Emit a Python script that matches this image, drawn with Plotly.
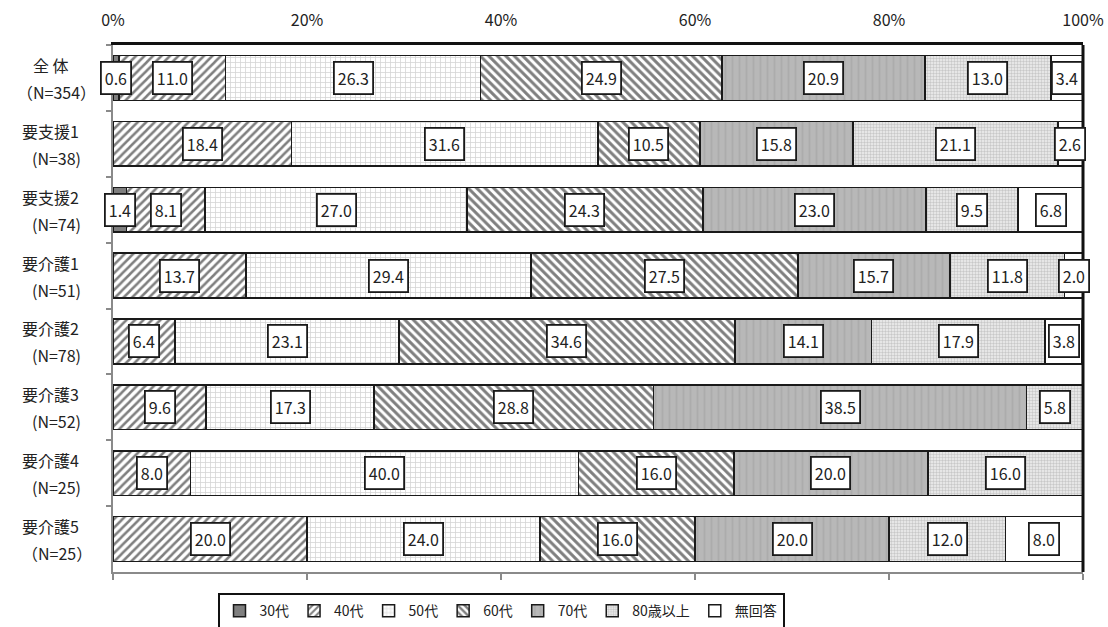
import plotly.graph_objects as go

# Care level groups (top to bottom) and their respondent counts
categories = ["全 体", "要支援1", "要支援2", "要介護1", "要介護2", "要介護3", "要介護4", "要介護5"]
counts = ["（N=354）", "(N=38)", "(N=74)", "(N=51)", "(N=78)", "(N=52)", "(N=25)", "（N=25）"]

# Age-group shares (%) for each care level
age_groups = ["30代", "40代", "50代", "60代", "70代", "80歳以上", "無回答"]
age_30s = [0.6, 0, 1.4, 0, 0, 0, 0, 0]
age_40s = [11.0, 18.4, 8.1, 13.7, 6.4, 9.6, 8.0, 20.0]
age_50s = [26.3, 31.6, 27.0, 29.4, 23.1, 17.3, 40.0, 24.0]
age_60s = [24.9, 10.5, 24.3, 27.5, 34.6, 28.8, 16.0, 16.0]
age_70s = [20.9, 15.8, 23.0, 15.7, 14.1, 38.5, 20.0, 20.0]
age_80plus = [13.0, 21.1, 9.5, 11.8, 17.9, 5.8, 16.0, 12.0]
no_answer = [3.4, 2.6, 6.8, 2.0, 3.8, 0, 0, 8.0]

series = [age_30s, age_40s, age_50s, age_60s, age_70s, age_80plus, no_answer]

tick_vals = [0, 20, 40, 60, 80, 100]
tick_text = ["0%", "20%", "40%", "60%", "80%", "100%"]

FONT = "Noto Sans CJK JP"

styles = [
    dict(color="#7f7f7f", pattern=dict(shape="")),
    dict(color="white", pattern=dict(shape="/", fgcolor="#000", bgcolor="white", size=6, solidity=0.42)),
    dict(color="white", pattern=dict(shape="+", fgcolor="#a8a8a8", bgcolor="white", size=5, solidity=0.28)),
    dict(color="white", pattern=dict(shape="\\", fgcolor="#000", bgcolor="white", size=6, solidity=0.5)),
    dict(color="#b4b4b4", pattern=dict(shape="|", fgcolor="#a0a0a0", bgcolor="#b8b8b8", size=7, solidity=0.25)),
    dict(color="white", pattern=dict(shape=".", fgcolor="#a0a0a0", bgcolor="#f0f0f0", size=3, solidity=0.5)),
    dict(color="white", pattern=dict(shape="")),
]

fig = go.Figure()
for name, vals, st in zip(age_groups, series, styles):
    fig.add_trace(go.Bar(
        y=categories, x=vals, name=name, orientation="h",
        marker=dict(color=st["color"], pattern=st["pattern"],
                    line=dict(color="#1a1a1a", width=1.5)),
        hoverinfo="skip",
    ))

# Hidden helper trace so the bottom tick axis is rendered
fig.add_trace(go.Scatter(
    x=[tick_vals[0], tick_vals[-1]], y=[categories[0], categories[0]],
    xaxis="x2", mode="none", showlegend=False, hoverinfo="skip",
))

# Boxed value labels centred on each segment
annotations = []
for i, cat in enumerate(categories):
    left = 0.0
    for vals in series:
        v = vals[i]
        if v > 0:
            annotations.append(dict(
                x=left + v / 2, y=cat, xref="x", yref="y",
                text=f"{v:.1f}", showarrow=False,
                font=dict(family=FONT, size=16, color="#222"),
                bgcolor="white", bordercolor="#1a1a1a", borderwidth=1.8, borderpad=3,
            ))
        left += v

# Two-line category labels on the left
for cat, n in zip(categories, counts):
    annotations.append(dict(
        x=-0.064, y=cat, xref="paper", yref="y", xanchor="center", yshift=13,
        text=cat, showarrow=False,
        font=dict(family=FONT, size=16, color="#222"),
    ))
    annotations.append(dict(
        x=-0.058, y=cat, xref="paper", yref="y", xanchor="center", yshift=-14,
        text=n, showarrow=False,
        font=dict(family=FONT, size=16, color="#222"),
    ))

fig.update_layout(
    barmode="stack",
    bargap=0.32,
    width=1108, height=627,
    margin=dict(l=113, r=25, t=45, b=55, autoexpand=False),
    paper_bgcolor="white", plot_bgcolor="white",
    font=dict(family=FONT, size=16, color="#222"),
    annotations=annotations,
    xaxis=dict(
        side="top", range=[0, 100], tickmode="array",
        tickvals=tick_vals, ticktext=tick_text,
        showgrid=False, zeroline=False,
        showline=True, linecolor="#111", linewidth=3, ticks="",
        ticklabelstandoff=10,
        tickfont=dict(family=FONT, size=16, color="#222"),
    ),
    xaxis2=dict(
        overlaying="x", side="bottom", anchor="y", range=[0, 100],
        tickmode="array", tickvals=tick_vals, showticklabels=False,
        showgrid=False, zeroline=False, showline=True,
        linecolor="#8a8a8a", linewidth=1.5, ticks="outside", ticklen=6,
        tickcolor="#8a8a8a", tickwidth=1.5,
    ),
    yaxis=dict(
        autorange="reversed", showticklabels=False, showgrid=False,
        showline=True, linecolor="#8a8a8a", linewidth=1.5,
        ticks="outside", tickson="boundaries", ticklen=5,
        tickcolor="#8a8a8a", tickwidth=1.5,
    ),
    legend=dict(
        orientation="h", x=0.4, xanchor="center", y=-0.04, yanchor="top",
        bordercolor="#111", borderwidth=2, bgcolor="white",
        font=dict(family=FONT, size=14, color="#222"),
        itemwidth=30, traceorder="normal",
    ),
    shapes=[
        dict(type="line", xref="paper", yref="paper", x0=1, x1=1, y0=0, y1=1,
             line=dict(color="#111", width=3)),
    ],
)

fig.write_html("out.html")
